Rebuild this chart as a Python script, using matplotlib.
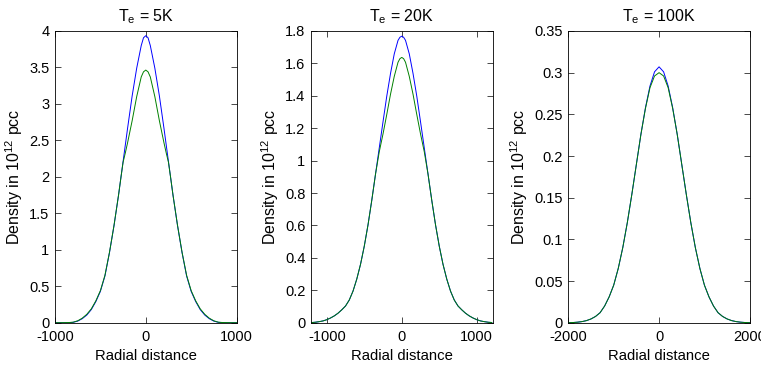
import matplotlib
matplotlib.use("Agg")
import matplotlib.pyplot as plt
from matplotlib.ticker import FuncFormatter

plt.rcParams['font.family'] = ['Liberation Sans', 'DejaVu Sans']
plt.rcParams['mathtext.default'] = 'regular'
plt.rcParams['axes.unicode_minus'] = False

# T_e = 5K
x1 = [-1000, -950, -900, -850, -800, -750, -700, -650, -600, -550, -500, -450, -400,
      -350, -300, -275, -250, -225, -200, -150, -100, -50, -25, 0, 25, 50, 100, 150,
      200, 225, 250, 275, 300, 350, 400, 450, 500, 550, 600, 650, 700, 750, 800, 850,
      900, 950, 1000]
blue1 = [0, 0, 0, 0.001, 0.005, 0.022, 0.055, 0.105, 0.18, 0.29, 0.43, 0.64, 0.96,
         1.33, 1.75, 1.98, 2.21, 2.44, 2.67, 3.11, 3.49, 3.80, 3.907, 3.935, 3.907, 3.80,
         3.49, 3.11, 2.67, 2.44, 2.21, 1.98, 1.75, 1.33, 0.96, 0.64, 0.43, 0.29, 0.18,
         0.105, 0.055, 0.022, 0.005, 0.001, 0, 0, 0]
green1 = [0, 0, 0.001, 0.002, 0.007, 0.026, 0.062, 0.115, 0.19, 0.30, 0.44, 0.65, 0.965,
          1.335, 1.75, 1.98, 2.20, 2.33, 2.47, 2.77, 3.10, 3.37, 3.44, 3.464, 3.44, 3.37,
          3.10, 2.77, 2.47, 2.33, 2.20, 1.98, 1.75, 1.335, 0.965, 0.65, 0.44, 0.30, 0.19,
          0.115, 0.062, 0.026, 0.007, 0.002, 0.001, 0, 0]

# T_e = 20K
x2 = [-1200, -1150, -1100, -1050, -1000, -950, -900, -850, -800, -750, -700, -650, -600,
      -550, -500, -450, -400, -350, -300, -250, -200, -150, -100, -50, -25, 0, 25, 50,
      100, 150, 200, 250, 300, 350, 400, 450, 500, 550, 600, 650, 700, 750, 800, 850,
      900, 950, 1000, 1050, 1100, 1150, 1200]
blue2 = [0.001, 0.003, 0.0065, 0.011, 0.0186, 0.029, 0.042, 0.0586, 0.0795, 0.103, 0.14,
         0.195, 0.269, 0.36, 0.472, 0.604, 0.755, 0.917, 1.079, 1.24, 1.398, 1.538, 1.659,
         1.742, 1.761, 1.768, 1.761, 1.742, 1.659, 1.538, 1.398, 1.24, 1.079, 0.917, 0.755,
         0.604, 0.472, 0.36, 0.269, 0.195, 0.14, 0.103, 0.0795, 0.0586, 0.042, 0.029,
         0.0186, 0.011, 0.0065, 0.003, 0.001]
green2 = [0.001, 0.003, 0.0065, 0.011, 0.0186, 0.029, 0.042, 0.0586, 0.0795, 0.103, 0.14,
          0.195, 0.269, 0.36, 0.472, 0.604, 0.755, 0.917, 1.055, 1.165, 1.285, 1.41, 1.52,
          1.607, 1.629, 1.637, 1.629, 1.607, 1.52, 1.41, 1.285, 1.165, 1.055, 0.917, 0.755,
          0.604, 0.472, 0.36, 0.269, 0.195, 0.14, 0.103, 0.0795, 0.0586, 0.042, 0.029,
          0.0186, 0.011, 0.0065, 0.003, 0.001]

# T_e = 100K
x3 = [-2000, -1900, -1800, -1700, -1600, -1500, -1400, -1300, -1200, -1100, -1000, -900,
      -800, -700, -600, -500, -400, -300, -200, -100, 0, 100, 200, 300, 400, 500, 600,
      700, 800, 900, 1000, 1100, 1200, 1300, 1400, 1500, 1600, 1700, 1800, 1900, 2000]
blue3 = [0, 0.0002, 0.0006, 0.0013, 0.0025, 0.0045, 0.0075, 0.012, 0.020, 0.031, 0.045,
         0.065, 0.090, 0.120, 0.154, 0.190, 0.226, 0.258, 0.284, 0.301, 0.307, 0.301, 0.284,
         0.258, 0.226, 0.190, 0.154, 0.120, 0.090, 0.065, 0.045, 0.031, 0.020, 0.012, 0.0075,
         0.0045, 0.0025, 0.0013, 0.0006, 0.0002, 0]
green3 = [0, 0.0002, 0.0006, 0.0013, 0.0025, 0.0045, 0.0075, 0.012, 0.020, 0.031, 0.045,
          0.065, 0.090, 0.120, 0.154, 0.190, 0.226, 0.257, 0.282, 0.296, 0.300, 0.296, 0.282,
          0.257, 0.226, 0.190, 0.154, 0.120, 0.090, 0.065, 0.045, 0.031, 0.020, 0.012, 0.0075,
          0.0045, 0.0025, 0.0013, 0.0006, 0.0002, 0]

titles = ['T$_e$ = 5K', 'T$_e$ = 20K', 'T$_e$ = 100K']
xlims = [(-1000, 1000), (-1210, 1210), (-2000, 2000)]
xticks = [[-1000, 0, 1000], [-1000, 0, 1000], [-2000, 0, 2000]]
ylims = [(0, 4), (0, 1.8), (0, 0.35)]
ysteps = [0.5, 0.2, 0.05]

fig = plt.figure(figsize=(7.61, 3.68), dpi=100)
lefts = [0.0723, 0.4087, 0.7468]
series = [(x1, blue1, green1), (x2, blue2, green2), (x3, blue3, green3)]

gfmt = FuncFormatter(lambda v, p: ('%g' % round(v, 4)))

for i in range(3):
    ax = fig.add_axes([lefts[i], 0.1231, 0.2385, 0.7927])
    x, b, g = series[i]
    ax.plot(x, b, color=(0, 0, 1), lw=0.7)
    ax.plot(x, g, color=(0, 0.5, 0), lw=0.7)
    ax.set_xlim(xlims[i])
    ax.set_ylim(ylims[i])
    ax.set_xticks(xticks[i])
    n = int(round(ylims[i][1] / ysteps[i]))
    ax.set_yticks([k * ysteps[i] for k in range(n + 1)])
    ax.yaxis.set_major_formatter(gfmt)
    ax.tick_params(direction='in', top=True, right=True, length=4, width=0.5,
                   labelsize=10.5)
    ax.tick_params(axis='x', pad=5)
    ax.tick_params(axis='y', pad=4)
    for s in ax.spines.values():
        s.set_linewidth(0.6)
    ax.set_title(titles[i], fontsize=11.5, pad=7)
    ax.set_xlabel('Radial distance', fontsize=10.7, labelpad=4)
    ax.set_ylabel('Density in 10$^{12}$ pcc', fontsize=11.5, labelpad=3)

fig.savefig('out.png', dpi=100)
